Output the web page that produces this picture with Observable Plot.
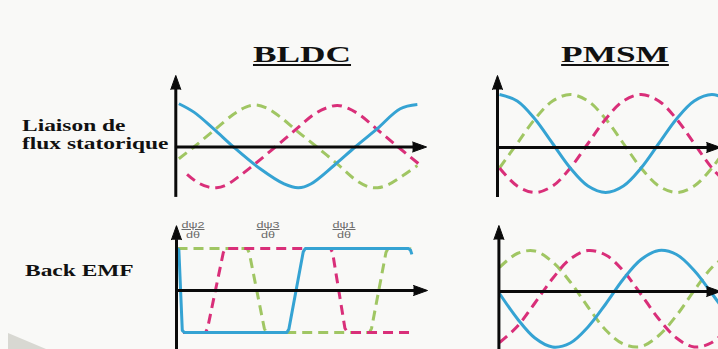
<!DOCTYPE html>
<html>
<head>
<meta charset="utf-8">
<script src="https://cdn.jsdelivr.net/npm/d3@7"></script>
<script src="https://cdn.jsdelivr.net/npm/@observablehq/plot@0.6"></script>
<style>
  html, body { margin: 0; padding: 0; background: #f9f9f7; }
  #chart { position: relative; width: 718px; height: 349px; overflow: hidden; background: #f9f9f7; }
  #chart svg { position: absolute; left: 0; top: 0; }
  .serif { position: absolute; white-space: nowrap; font-family: "Liberation Serif", "Times New Roman", serif; font-weight: bold; color: #111; line-height: 1; }
  .title { font-size: 24px; text-decoration: underline; text-decoration-thickness: 2px; text-underline-offset: 2px; transform-origin: 50% 0; transform: translateX(-50%) scaleX(1.47); }
  .row { font-size: 16.5px; transform-origin: 0 0; transform: scaleX(1.42); }
  .frac { position: absolute; white-space: nowrap; font-family: "Liberation Sans", Arial, sans-serif; font-size: 9px; color: #6a6a6a; line-height: 1; transform-origin: 50% 0; transform: translateX(-50%) scaleX(1.4); }
  .num { text-decoration: underline; text-decoration-thickness: 1px; }
  #wedge { position: absolute; left: 0; top: 0; width: 718px; height: 349px; background: #d8d8d2; clip-path: polygon(8px 333px, 46px 349px, 8px 349px); }
</style>
</head>
<body>
<div id="chart"><div id="wedge"></div></div>
<script>
// ---------- text ----------
const titles = ["BLDC", "PMSM"];
const rowLabels = [["Liaison de", "flux statorique"], ["Back EMF"]];
const emfNumerators = ["dψ2", "dψ3", "dψ1"];
const emfDenominator = "dθ";
const emfLabelTheta = [23, 133, 244];

// ---------- BLDC: flux linkage [θ (deg), value] ----------
const bldcFluxBlue = [[2,1.03],[24,0.83],[53,0.43],[82,0],[121,-0.52],[156,-0.88],[177,-0.97],[195,-0.88],[229,-0.44],[260,0],[292,0.43],[326,0.91],[351,1.01]];
const bldcFluxGreen = [[2,-0.28],[24,0],[53,0.39],[82,0.78],[100,0.95],[114,1.0],[130,0.93],[150,0.72],[175,0.38],[204,0],[235,-0.42],[262,-0.8],[280,-0.95],[293,-0.97],[308,-0.9],[330,-0.68],[351,-0.44]];
const bldcFluxMagenta = [[14,-0.65],[30,-0.85],[45,-0.95],[57,-0.97],[72,-0.9],[90,-0.7],[115,-0.38],[143,0],[172,0.4],[200,0.78],[218,0.93],[234,0.99],[250,0.92],[268,0.75],[295,0.38],[323,0],[353,-0.4]];

// ---------- BLDC: back EMF [θ (deg), value] ----------
const bldcEmfBlue = [[0,1],[2,0.97],[7,-0.95],[10,-1],[160,-1],[163,-0.92],[184,0.92],[187,1],[338,1],[341,0.96],[343,0.86]];
const bldcEmfMagenta = [[8,-1],[41,-1],[44,-0.9],[67,0.9],[70,1],[224,1],[227,0.9],[245,-0.9],[249,-1],[342,-1]];
const bldcEmfGreen = [[0,1],[102,1],[105,0.9],[127,-0.9],[130,-1],[281,-1],[284,-0.9],[305,0.9],[308,1],[342,1]];

// ---------- PMSM (θ every 30°) ----------
const pmsmTheta = [0,30,60,90,120,150,180,210,240,270,300,330,360,390];
const pmsmFluxBlue    = [1.06,0.93,0.57,0.08,-0.41,-0.77,-0.90,-0.77,-0.41,0.08,0.57,0.93,1.06,0.93];
const pmsmFluxGreen   = [-0.41,0.08,0.57,0.93,1.06,0.93,0.57,0.08,-0.41,-0.77,-0.90,-0.77,-0.41,0.08];
const pmsmFluxMagenta = [-0.41,-0.77,-0.90,-0.77,-0.41,0.08,0.57,0.93,1.06,0.93,0.57,0.08,-0.41,-0.77];
const pmsmEmfBlue     = [-0.04,-0.54,-0.93,-1.11,-1.03,-0.71,-0.25,0.25,0.64,0.82,0.74,0.42,-0.04,-0.54];
const pmsmEmfGreen    = [0.48,0.76,0.81,0.59,0.19,-0.31,-0.77,-1.05,-1.10,-0.88,-0.48,0.02,0.48,0.76];
const pmsmEmfMagenta  = [-1.02,-0.70,-0.23,0.26,0.65,0.82,0.73,0.41,-0.06,-0.55,-0.93,-1.11,-1.02,-0.70];

// ---------- styles ----------
const BLUE = "#35a3d3", GREEN = "#a0c663", MAGENTA = "#d92f79", AXIS = "#0a0a0a";

// ---------- panel layout ----------
const panels = [
  { xRange: [177, 423], yRange: [188.5, 104.5], curve: "catmull-rom",
    series: [[bldcFluxGreen, GREEN, true], [bldcFluxMagenta, MAGENTA, true], [bldcFluxBlue, BLUE, false]],
    xAxis: { y: 0, from: -3, to: 344 }, yAxis: { x: -2.5, from: -1.2, to: 1.37 } },
  { xRange: [177, 423], yRange: [332, 248], curve: "linear",
    series: [[bldcEmfGreen, GREEN, true], [bldcEmfMagenta, MAGENTA, true], [bldcEmfBlue, BLUE, false]],
    xAxis: { y: 0, from: -1.5, to: 345.4 }, yAxis: { x: -1.5, from: -1.45, to: 1.21 } },
  { xRange: [499, 711.4], yRange: [197, 97], curve: "catmull-rom",
    series: [[pmsmTheta.map((t,i)=>[t,pmsmFluxGreen[i]]), GREEN, true],
             [pmsmTheta.map((t,i)=>[t,pmsmFluxMagenta[i]]), MAGENTA, true],
             [pmsmTheta.map((t,i)=>[t,pmsmFluxBlue[i]]), BLUE, false]],
    xAxis: { y: 0, from: -3.4, to: 351 }, yAxis: { x: -3.4, from: -1.0, to: 1.16 } },
  { xRange: [499, 711.4], yRange: [341, 241], curve: "catmull-rom",
    series: [[pmsmTheta.map((t,i)=>[t,pmsmEmfGreen[i]]), GREEN, true],
             [pmsmTheta.map((t,i)=>[t,pmsmEmfMagenta[i]]), MAGENTA, true],
             [pmsmTheta.map((t,i)=>[t,pmsmEmfBlue[i]]), BLUE, false]],
    xAxis: { y: 0, from: -1, to: 351 }, yAxis: { x: -1, from: -1.2, to: 1.04 } }
];

const chart = document.getElementById("chart");

for (const p of panels) {
  const marks = [];
  for (const [pairs, color, dashed] of p.series) {
    marks.push(Plot.line(pairs.map(([t, v]) => ({t, v})), {
      x: "t", y: "v", stroke: color, strokeWidth: 3,
      strokeDasharray: dashed ? "10,6" : null,
      strokeLinecap: "butt", strokeLinejoin: "round", curve: p.curve
    }));
  }
  // axes with arrowheads
  marks.push(Plot.ruleY([p.xAxis.y], { x1: p.xAxis.from, x2: p.xAxis.to + 2, stroke: AXIS, strokeWidth: 3 }));
  marks.push(Plot.ruleX([p.yAxis.x], { y1: p.yAxis.from, y2: p.yAxis.to, stroke: AXIS, strokeWidth: 3 }));
  marks.push(Plot.vector([{x: p.xAxis.to, y: p.xAxis.y}], {
    x: "x", y: "y", rotate: 90, length: 14, anchor: "start", shape: "spike", r: 5,
    fill: AXIS, stroke: AXIS, strokeWidth: 1, fillOpacity: 1 }));
  marks.push(Plot.vector([{x: p.yAxis.x, y: p.yAxis.to}], {
    x: "x", y: "y", rotate: 0, length: 14, anchor: "start", shape: "spike", r: 5,
    fill: AXIS, stroke: AXIS, strokeWidth: 1, fillOpacity: 1 }));

  const svg = Plot.plot({
    width: 718, height: 349,
    x: { domain: [0, 360], range: p.xRange, axis: null },
    y: { domain: [-1, 1], range: p.yRange, axis: null },
    style: { background: "transparent", overflow: "visible" },
    marks
  });
  chart.appendChild(svg);
}

// ---------- HTML text ----------
function addDiv(cls, text, left, top) {
  const d = document.createElement("div");
  d.className = cls;
  d.textContent = text;
  d.style.left = left + "px";
  d.style.top = top + "px";
  chart.appendChild(d);
  return d;
}
const titleCenters = [302, 615];
titles.forEach((t, i) => addDiv("serif title", t, titleCenters[i], 42));
addDiv("serif row", rowLabels[0][0], 22, 118.2);
addDiv("serif row", rowLabels[0][1], 22, 136.2);
addDiv("serif row", rowLabels[1][0], 25, 263);

// EMF fraction labels placed with the BLDC panel's x scale
const xScaleBL = d3.scaleLinear().domain([0, 360]).range(panels[1].xRange);
emfNumerators.forEach((n, i) => {
  const cx = xScaleBL(emfLabelTheta[i]);
  addDiv("frac num", n, cx, 220.9);
  addDiv("frac", emfDenominator, cx, 230.9);
});
</script>
</body>
</html>
